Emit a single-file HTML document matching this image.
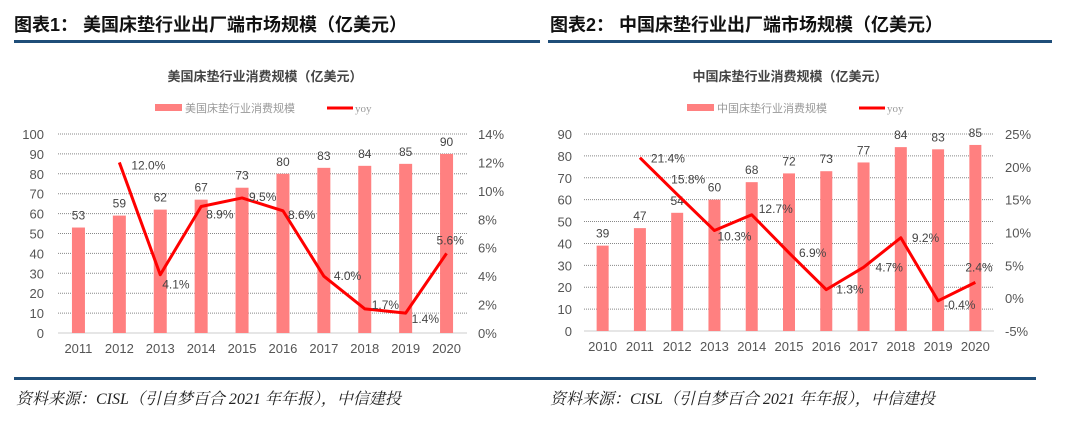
<!DOCTYPE html>
<html><head><meta charset="utf-8"><style>
body{margin:0;background:#fff;width:1080px;height:425px;overflow:hidden;font-family:"Liberation Sans","Noto Sans CJK SC",sans-serif}
svg{display:block}
</style></head><body>
<svg id="s" width="1080" height="425">
<text x="14" y="31" font-size="18" font-weight="bold" font-family="'Liberation Sans','Noto Sans CJK SC',sans-serif" fill="#111">图表1：   美国床垫行业出厂端市场规模（亿美元）</text>
<text x="550" y="31" font-size="18" font-weight="bold" font-family="'Liberation Sans','Noto Sans CJK SC',sans-serif" fill="#111">图表2：   中国床垫行业出厂端市场规模（亿美元）</text>
<rect x="14" y="40" width="526" height="3" fill="#1f4e79"/>
<rect x="548" y="40" width="504" height="3" fill="#1f4e79"/>
<rect x="14" y="377" width="526" height="3" fill="#1f4e79"/>
<rect x="540" y="377" width="496" height="3" fill="#1f4e79"/>
<text x="16" y="404" font-size="16" font-style="italic" font-family="'Liberation Serif','Noto Serif CJK SC',serif" fill="#222">资料来源：CISL（引自梦百合 2021 年年报），中信建投</text>
<text x="550" y="404" font-size="16" font-style="italic" font-family="'Liberation Serif','Noto Serif CJK SC',serif" fill="#222">资料来源：CISL（引自梦百合 2021 年年报），中信建投</text>
</svg>
<script>
const usYears=["2011","2012","2013","2014","2015","2016","2017","2018","2019","2020"];
const usSize=[53,59,62,67,73,80,83,84,85,90];
const usYoy=[null,12.0,4.1,8.9,9.5,8.6,4.0,1.7,1.4,5.6];
const usLeftTicks=[0,10,20,30,40,50,60,70,80,90,100];
const usRightTicks=[0,2,4,6,8,10,12,14];
const cnYears=["2010","2011","2012","2013","2014","2015","2016","2017","2018","2019","2020"];
const cnSize=[39,47,54,60,68,72,73,77,84,83,85];
const cnYoy=[null,21.4,15.8,10.3,12.7,6.9,1.3,4.7,9.2,-0.4,2.4];
const cnLeftTicks=[0,10,20,30,40,50,60,70,80,90];
const cnRightTicks=[-5,0,5,10,15,20,25];

const NS="http://www.w3.org/2000/svg";
const svg=document.getElementById('s');
function mk(tag,attrs,parent,txt){const e=document.createElementNS(NS,tag);for(const k in attrs)e.setAttribute(k,attrs[k]);if(txt!==undefined)e.textContent=txt;(parent||svg).appendChild(e);return e;}

function chart(o){
  const g=mk('g',{});
  
  
  const lmin=o.lt[0],lmax=o.lt[o.lt.length-1],rmin=o.rt[0],rmax=o.rt[o.rt.length-1];
  const yL=v=>o.y0-(v-lmin)/(lmax-lmin)*(o.y0-o.y1);
  const yR=v=>o.y0-(v-rmin)/(rmax-rmin)*(o.y0-o.y1);
  const step=(o.x1-o.x0)/o.cats.length;
  const xC=i=>o.x0+step*(i+0.5);
  const t=mk('text',{x:o.tx,y:81,'font-size':13,'font-weight':'bold','text-anchor':'middle',fill:'#444'},g,o.title);
  
  const lr=mk('rect',{x:o.lgx,y:104,width:27,height:7,fill:'#ff8080'},g);
  
  const lt=mk('text',{x:o.lgx+30,y:112,'font-size':11,fill:'#999'},g,o.legend);
  
  const ll=mk('line',{x1:o.lgx+172,y1:108,x2:o.lgx+198,y2:108,stroke:'#f00','stroke-width':3},g);
  
  const ly=mk('text',{x:o.lgx+200,y:112,'font-size':11,fill:'#999','font-family':'Liberation Serif,serif'},g,'yoy');
  
  o.lt.forEach(v=>{
    const y=yL(v);
    if(v!==lmin){const gl=mk('line',{x1:o.x0,y1:y,x2:o.x1,y2:y,stroke:'#888','stroke-width':1,'stroke-dasharray':'1 1'},g);
    }
    const tx=mk('text',{x:o.lx,y:y+5,'font-size':13,'text-anchor':'end',fill:'#555'},g,v);
    
  });
  o.rt.forEach(v=>{
    const tx=mk('text',{x:o.rx,y:yR(v)+5,'font-size':13,fill:'#555'},g,v+'%');
    
  });
  const ax=mk('line',{x1:o.x0,y1:o.y0,x2:o.x1,y2:o.y0,stroke:'#ccc','stroke-width':1},g);
  
  o.cats.forEach((c,i)=>{
    const b=mk('rect',{x:xC(i)-o.bw/2,y:yL(o.size[i]),width:o.bw,height:o.y0-yL(o.size[i]),fill:'#ff8080'},g);
    
    const bl=mk('text',{x:xC(i),y:yL(o.size[i])-8,'font-size':12,'text-anchor':'middle',fill:'#444'},g,o.size[i]);
    
    const xl=mk('text',{x:xC(i),y:o.y0+20,'font-size':13,'text-anchor':'middle',fill:'#555'},g,c);
    
  });
  let pts=[];
  o.yoy.forEach((v,i)=>{if(v!==null)pts.push(xC(i)+','+yR(v));});
  const pl=mk('polyline',{points:pts.join(' '),fill:'none',stroke:'#f00','stroke-width':3,'stroke-linejoin':'round'},g);
  
  o.yoy.forEach((v,i)=>{if(v===null)return;
    const off=o.off[i]||[6,8];
    const l=mk('text',{x:xC(i)+off[0],y:yR(v)+off[1]+4,'font-size':12,fill:'#444'},g,v.toFixed(1)+'%');
    
  });
}
chart({name:'us-mattress-chart',cats:usYears,size:usSize,yoy:usYoy,lt:usLeftTicks,rt:usRightTicks,
  x0:58,x1:467,y0:333,y1:134,lx:44,rx:478,bw:13,tx:265,lgx:155,
  title:'美国床垫行业消费规模（亿美元）',legend:'美国床垫行业消费规模',
  off:[null,[12,3],[2,10],[5,8],[7,-1],[5,4],[10,0],[7,-4],[6,6],[-10,-13]]});
chart({name:'china-mattress-chart',cats:cnYears,size:cnSize,yoy:cnYoy,lt:cnLeftTicks,rt:cnRightTicks,
  x0:584,x1:994,y0:331,y1:134,lx:572,rx:1005,bw:12,tx:790,lgx:687,
  title:'中国床垫行业消费规模（亿美元）',legend:'中国床垫行业消费规模',
  off:[null,[11,1],[-6,-15],[3,6],[7,-6],[10,0],[10,0],[12,0],[11,0],[6,4],[-10,-15]]});
</script>
</body></html>
